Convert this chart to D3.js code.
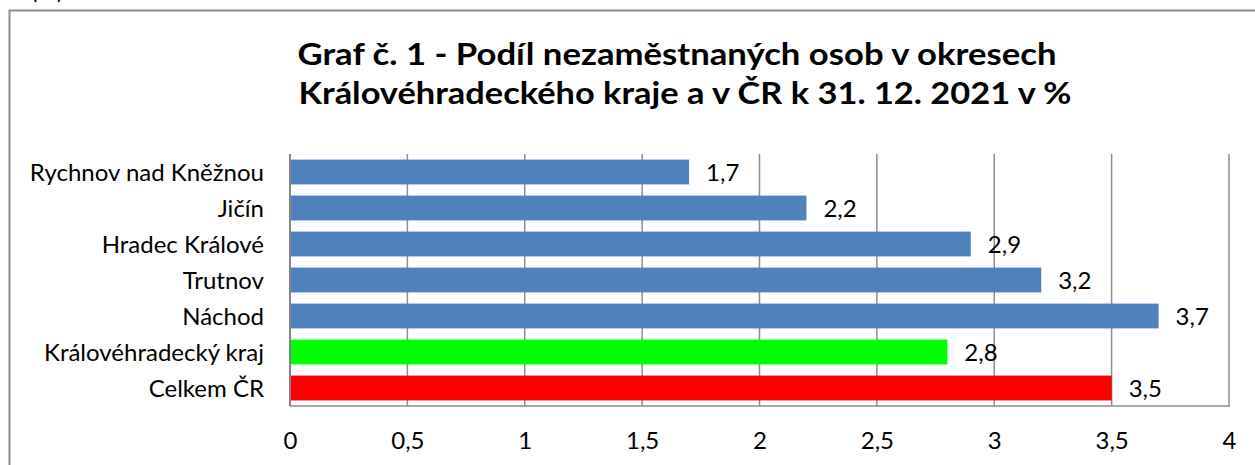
<!DOCTYPE html>
<html>
<head>
<meta charset="utf-8">
<script src="https://cdn.jsdelivr.net/npm/d3@7"></script>
<style>
  body { margin: 0; background: #fff; }
  svg { display: block; font-family: Lato, "Open Sans", sans-serif; }
</style>
</head>
<body>
<div id="viz"></div>
<script>
// data
const categories = ["Rychnov nad Kněžnou", "Jičín", "Hradec Králové", "Trutnov", "Náchod", "Královéhradecký kraj", "Celkem ČR"];
const values = [1.7, 2.2, 2.9, 3.2, 3.7, 2.8, 3.5];
const barColors = ["#4F81BD", "#4F81BD", "#4F81BD", "#4F81BD", "#4F81BD", "#00FF00", "#FF0000"];
const xTicks = [0, 0.5, 1, 1.5, 2, 2.5, 3, 3.5, 4];
const titleLines = ["Graf č. 1 - Podíl nezaměstnaných osob v okresech", "Královéhradeckého kraje a v ČR k 31. 12. 2021 v %"];

const W = 1255, H = 465;
const plot = { left: 290, right: 1229, top: 154, bottom: 406 };

const svg = d3.select("#viz").append("svg")
    .attr("width", W)
    .attr("height", H);

// cut-off unit label at the very top
svg.append("text")
    .attr("x", 31).attr("y", -1)
    .attr("font-size", 24)
    .text("(%)");

// outer chart frame (runs off the right and bottom)
svg.append("rect")
    .attr("x", 9.5).attr("y", 10.5)
    .attr("width", W + 20).attr("height", H + 20)
    .attr("fill", "none")
    .attr("stroke", "#8c8c8c")
    .attr("stroke-width", 2);

// title (Calibri-like width forced via textLength)
const titleWidths = [759, 773];
const titleCenters = [677, 685];
svg.append("g").selectAll("text")
    .data(titleLines)
    .join("text")
    .attr("x", (d, i) => titleCenters[i])
    .attr("y", (d, i) => 65 + i * 39)
    .attr("text-anchor", "middle")
    .attr("font-size", 31)
    .attr("font-weight", "bold")
    .attr("textLength", (d, i) => titleWidths[i])
    .attr("lengthAdjust", "spacingAndGlyphs")
    .text(d => d);

const x = d3.scaleLinear().domain([0, 4]).range([plot.left, plot.right]);
const y = d3.scaleBand().domain(categories).range([plot.top, plot.bottom]).paddingInner(0.31).paddingOuter(0.155);

// vertical gridlines
svg.append("g").selectAll("line")
    .data(xTicks.slice(1))
    .join("line")
    .attr("x1", d => x(d)).attr("x2", d => x(d))
    .attr("y1", plot.top).attr("y2", plot.bottom)
    .attr("stroke", "#8c8c8c")
    .attr("stroke-width", 1.5);

// bottom border
svg.append("line")
    .attr("x1", plot.left).attr("x2", plot.right + 0.75)
    .attr("y1", plot.bottom).attr("y2", plot.bottom)
    .attr("stroke", "#8c8c8c")
    .attr("stroke-width", 1.5);

// bars
svg.append("g").selectAll("rect")
    .data(values)
    .join("rect")
    .attr("x", x(0))
    .attr("y", (d, i) => y(categories[i]))
    .attr("width", d => x(d) - x(0))
    .attr("height", y.bandwidth())
    .attr("fill", (d, i) => barColors[i]);

// value labels
svg.append("g").selectAll("text")
    .data(values)
    .join("text")
    .attr("x", d => x(d) + 17)
    .attr("y", (d, i) => y(categories[i]) + y.bandwidth() / 2 + 9)
    .attr("font-size", 24)
    .text(d => String(d).replace(".", ","));

// left axis line
svg.append("line")
    .attr("x1", plot.left).attr("x2", plot.left)
    .attr("y1", plot.top).attr("y2", plot.bottom)
    .attr("stroke", "#868686")
    .attr("stroke-width", 2);

// category labels
svg.append("g").selectAll("text")
    .data(categories)
    .join("text")
    .attr("x", 264)
    .attr("y", d => y(d) + y.bandwidth() / 2 + 9)
    .attr("text-anchor", "end")
    .attr("font-size", 24)
    .text(d => d);

// x tick labels
const xAxis = d3.axisBottom(x)
    .tickValues(xTicks)
    .tickSize(0)
    .tickPadding(0)
    .tickFormat(d => String(d).replace(".", ","));

svg.append("g")
    .attr("transform", `translate(0, 432)`)
    .call(xAxis)
    .call(g => g.select(".domain").remove())
    .call(g => g.selectAll("text")
        .attr("font-family", "Lato, sans-serif")
        .attr("font-size", 24)
        .attr("fill", "#000")
        .attr("dy", "0.71em"));
</script>
</body>
</html>
